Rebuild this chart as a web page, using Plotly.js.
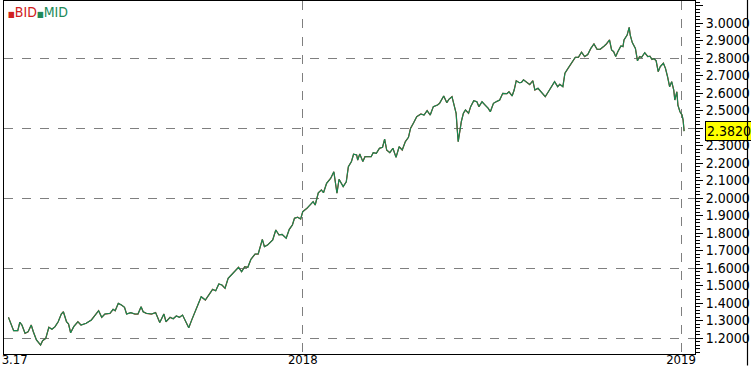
<!DOCTYPE html>
<html>
<head>
<meta charset="utf-8">
<script src="https://cdn.plot.ly/plotly-3.0.1.min.js"></script>
<style>
  html, body { margin: 0; padding: 0; background: #ffffff; overflow: hidden; }
  #chart { width: 751px; height: 368px; }
</style>
</head>
<body>
<div id="chart"></div>
<script>
// ---- data ----
const dates = [
  "2017-03-23","2017-03-26","2017-03-28","2017-04-01","2017-04-03","2017-04-05","2017-04-08","2017-04-11","2017-04-14","2017-04-16",
  "2017-04-19","2017-04-23","2017-04-25","2017-04-28","2017-05-01","2017-05-04","2017-05-07","2017-05-10","2017-05-13","2017-05-15",
  "2017-05-18","2017-05-20","2017-05-22","2017-05-25","2017-05-29","2017-06-01","2017-06-06","2017-06-11","2017-06-16","2017-06-18",
  "2017-06-21","2017-06-24","2017-06-29","2017-07-02","2017-07-04","2017-07-07","2017-07-10","2017-07-13","2017-07-15","2017-07-19",
  "2017-07-23","2017-07-26","2017-07-29","2017-07-31","2017-08-03","2017-08-08","2017-08-12","2017-08-16","2017-08-20","2017-08-22",
  "2017-08-26","2017-08-29","2017-09-01","2017-09-04","2017-09-07","2017-09-10","2017-09-13","2017-09-16","2017-09-19","2017-09-22",
  "2017-09-25","2017-09-29","2017-10-03","2017-10-06","2017-10-09","2017-10-12","2017-10-15","2017-10-18","2017-10-21","2017-10-24",
  "2017-10-27","2017-10-31","2017-11-03","2017-11-06","2017-11-09","2017-11-12","2017-11-16","2017-11-19","2017-11-23","2017-11-25",
  "2017-11-28","2017-12-03","2017-12-06","2017-12-09","2017-12-12","2017-12-16","2017-12-19","2017-12-22","2017-12-24","2017-12-27",
  "2017-12-30","2018-01-01","2018-01-05","2018-01-08","2018-01-11","2018-01-13","2018-01-16","2018-01-19","2018-01-21","2018-01-24",
  "2018-01-28","2018-01-31","2018-02-03","2018-02-05","2018-02-09","2018-02-12","2018-02-14","2018-02-17","2018-02-19","2018-02-22",
  "2018-02-23","2018-02-25","2018-02-28","2018-03-02","2018-03-05","2018-03-08","2018-03-10","2018-03-13","2018-03-16","2018-03-19",
  "2018-03-21","2018-03-23","2018-03-26","2018-03-29","2018-04-01","2018-04-04","2018-04-07","2018-04-10","2018-04-13","2018-04-15",
  "2018-04-18","2018-04-21","2018-04-25","2018-04-28","2018-05-01","2018-05-04","2018-05-07","2018-05-11","2018-05-13","2018-05-17",
  "2018-05-20","2018-05-22","2018-05-25","2018-05-27","2018-05-29","2018-05-30","2018-05-31","2018-06-02","2018-06-03","2018-06-05",
  "2018-06-07","2018-06-10","2018-06-12","2018-06-15","2018-06-18","2018-06-20","2018-06-23","2018-06-26","2018-06-29","2018-07-01",
  "2018-07-04","2018-07-07","2018-07-10","2018-07-13","2018-07-17","2018-07-19","2018-07-22","2018-07-24","2018-07-26","2018-07-29",
  "2018-07-31","2018-08-02","2018-08-08","2018-08-11","2018-08-13","2018-08-16","2018-08-19","2018-08-23","2018-08-26","2018-08-29",
  "2018-09-01","2018-09-04","2018-09-06","2018-09-09","2018-09-11","2018-09-14","2018-09-17","2018-09-21","2018-09-24","2018-09-27",
  "2018-09-30","2018-10-03","2018-10-06","2018-10-09","2018-10-12","2018-10-15","2018-10-19","2018-10-21","2018-10-24","2018-10-26",
  "2018-10-28","2018-10-30","2018-11-01","2018-11-04","2018-11-06","2018-11-07","2018-11-10","2018-11-12","2018-11-13","2018-11-15",
  "2018-11-18","2018-11-20","2018-11-22","2018-11-24","2018-11-27","2018-11-30","2018-12-02","2018-12-04","2018-12-06","2018-12-08",
  "2018-12-10","2018-12-12","2018-12-15","2018-12-17","2018-12-19","2018-12-21","2018-12-23","2018-12-25","2018-12-26","2018-12-28",
  "2018-12-29","2018-12-31","2019-01-02","2019-01-03","2019-01-04"
];

const midValues = [
  1.318,1.265,1.242,1.242,1.290,1.274,1.227,1.236,1.274,1.236,
  1.189,1.160,1.185,1.198,1.261,1.250,1.265,1.293,1.337,1.350,
  1.293,1.280,1.230,1.265,1.293,1.274,1.284,1.303,1.341,1.356,
  1.318,1.337,1.341,1.364,1.356,1.398,1.389,1.375,1.337,1.345,
  1.337,1.337,1.379,1.350,1.341,1.337,1.345,1.288,1.337,1.293,
  1.318,1.310,1.326,1.318,1.331,1.293,1.259,1.305,1.350,1.389,
  1.436,1.417,1.455,1.478,1.470,1.509,1.503,1.484,1.541,1.560,
  1.579,1.604,1.579,1.607,1.604,1.650,1.680,1.680,1.764,1.722,
  1.731,1.760,1.817,1.789,1.792,1.770,1.821,1.846,1.884,1.890,
  1.880,1.922,1.941,1.960,1.979,1.960,2.030,2.046,2.030,2.084,
  2.113,2.150,2.027,2.107,2.065,2.093,2.179,2.208,2.250,2.246,
  2.217,2.251,2.208,2.236,2.236,2.236,2.259,2.255,2.284,2.290,
  2.337,2.274,2.259,2.284,2.232,2.293,2.274,2.322,2.347,2.398,
  2.430,2.465,2.480,2.474,2.499,2.474,2.522,2.531,2.541,2.583,
  2.545,2.564,2.579,2.522,2.484,2.398,2.322,2.398,2.436,2.484,
  2.503,2.484,2.522,2.556,2.550,2.522,2.550,2.531,2.512,2.493,
  2.541,2.551,2.560,2.598,2.596,2.607,2.583,2.617,2.670,2.659,
  2.660,2.675,2.648,2.670,2.617,2.627,2.607,2.579,2.607,2.636,
  2.665,2.636,2.650,2.636,2.713,2.741,2.770,2.804,2.804,2.833,
  2.808,2.820,2.855,2.880,2.850,2.850,2.869,2.880,2.903,2.846,
  2.836,2.808,2.836,2.869,2.865,2.903,2.931,2.975,2.931,2.888,
  2.855,2.784,2.808,2.804,2.830,2.808,2.810,2.792,2.796,2.784,
  2.722,2.751,2.770,2.741,2.693,2.636,2.665,2.617,2.560,2.607,
  2.531,2.493,2.474,2.446,2.382
];
// BID is indistinguishable from MID at this resolution
const bidValues = midValues;

const seriesNames = ["BID", "MID"];
const xTickDates = ["2018-01-01", "2019-01-01"];
const xTickLabels = ["2018", "2019"];
const startTickDate = ["2017-03-29"];
const startTickLabel = ["3.17"];

// ---- styling ----
const FONT = "Liberation Sans Narrow, DejaVu Sans Condensed, Arial Narrow, sans-serif";
const RED = "#b02a1a";
const GREEN = "#138a52";
const yRange = [1.1086, 3.1257];
const xRange = ["2017-03-18 17:00", "2019-01-14 12:00"];
const plotDomainEnd = 691 / 744;   // plot area ends where the price scale begins

const traces = [
  { type: "scatter", mode: "lines", name: seriesNames[0], x: dates, y: bidValues,
    xaxis: "x", yaxis: "y", line: { color: RED, width: 1.25 }, hoverinfo: "skip" },
  { type: "scatter", mode: "lines", name: seriesNames[1], x: dates, y: midValues,
    xaxis: "x2", yaxis: "y2", line: { color: GREEN, width: 1.1 }, hoverinfo: "skip" }
];

const lastVal = midValues[midValues.length - 1];
const xTickFont = { family: FONT, size: 13, color: "#000000" };

const layout = {
  width: 751, height: 368,
  margin: { l: 4, r: 3, t: 1, b: 14 },
  paper_bgcolor: "#ffffff", plot_bgcolor: "#ffffff",
  showlegend: false,
  font: { family: FONT, size: 14, color: "#000000" },
  xaxis: {
    type: "date", range: xRange, domain: [0, plotDomainEnd],
    tickmode: "array", tickvals: xTickDates, ticktext: xTickLabels,
    ticks: "", ticklen: 0, ticklabelstandoff: -7,
    showgrid: true, gridcolor: "#7f7f7f", griddash: "dash", gridwidth: 1,
    showline: true, linecolor: "#000000", linewidth: 1, mirror: true,
    zeroline: false, tickfont: xTickFont
  },
  xaxis2: {
    type: "date", range: xRange, domain: [0, plotDomainEnd], overlaying: "x", anchor: "y",
    tickmode: "array", tickvals: startTickDate, ticktext: startTickLabel,
    ticks: "", ticklen: 0, ticklabelstandoff: -4,
    showgrid: false, showline: false, zeroline: false,
    tickfont: xTickFont
  },
  yaxis: {
    range: yRange, side: "right",
    tick0: 1.2, dtick: 0.1, tickformat: ".4f",
    ticks: "outside", ticklen: 7, tickcolor: "#000000", tickwidth: 1,
    minor: { dtick: 0.02, tick0: 1.2, ticks: "outside", ticklen: 4, tickcolor: "#000000", showgrid: false },
    showgrid: false, zeroline: false,
    showline: true, linecolor: "#000000", linewidth: 1, mirror: true,
    tickfont: { family: FONT, size: 14, color: "#000000" }
  },
  yaxis2: {
    range: yRange, overlaying: "y", side: "right",
    tick0: 1.2, dtick: 0.4, showticklabels: false, ticks: "",
    showgrid: true, gridcolor: "#7f7f7f", griddash: "dash", gridwidth: 1,
    zeroline: false, showline: false
  },
  annotations: [
    { xref: "paper", yref: "paper", x: 0, y: 1, xanchor: "left", yanchor: "top",
      xshift: 2, yshift: -1, showarrow: false, align: "left",
      font: { family: FONT, size: 14 },
      text: '<span style="color:' + "#d02020" + '"><span style="font-size:8px">■</span>' + seriesNames[0] + '</span>' +
            '<span style="color:' + "#208a58" + '"><span style="font-size:8px">■</span>' + seriesNames[1] + '</span>' },
    { xref: "paper", yref: "y", x: plotDomainEnd, y: lastVal, xanchor: "left", yanchor: "middle",
      xshift: 10, showarrow: false, text: lastVal.toFixed(4),
      bgcolor: "#ffff00", bordercolor: "#000000", borderwidth: 1, borderpad: 1,
      font: { family: FONT, size: 14, color: "#000000" } },
    // outer frame line on the right of the price scale
    { xref: "paper", yref: "paper", x: 1, y: 1, xshift: -0.5, yshift: 1, text: "",
      showarrow: true, arrowhead: 0, arrowwidth: 1.2, arrowcolor: "#000000",
      axref: "pixel", ayref: "pixel", ax: 0, ay: 370, standoff: 0, startstandoff: 0 }
  ]
};

Plotly.newPlot("chart", traces, layout, { staticPlot: true, displayModeBar: false });
</script>
</body>
</html>
